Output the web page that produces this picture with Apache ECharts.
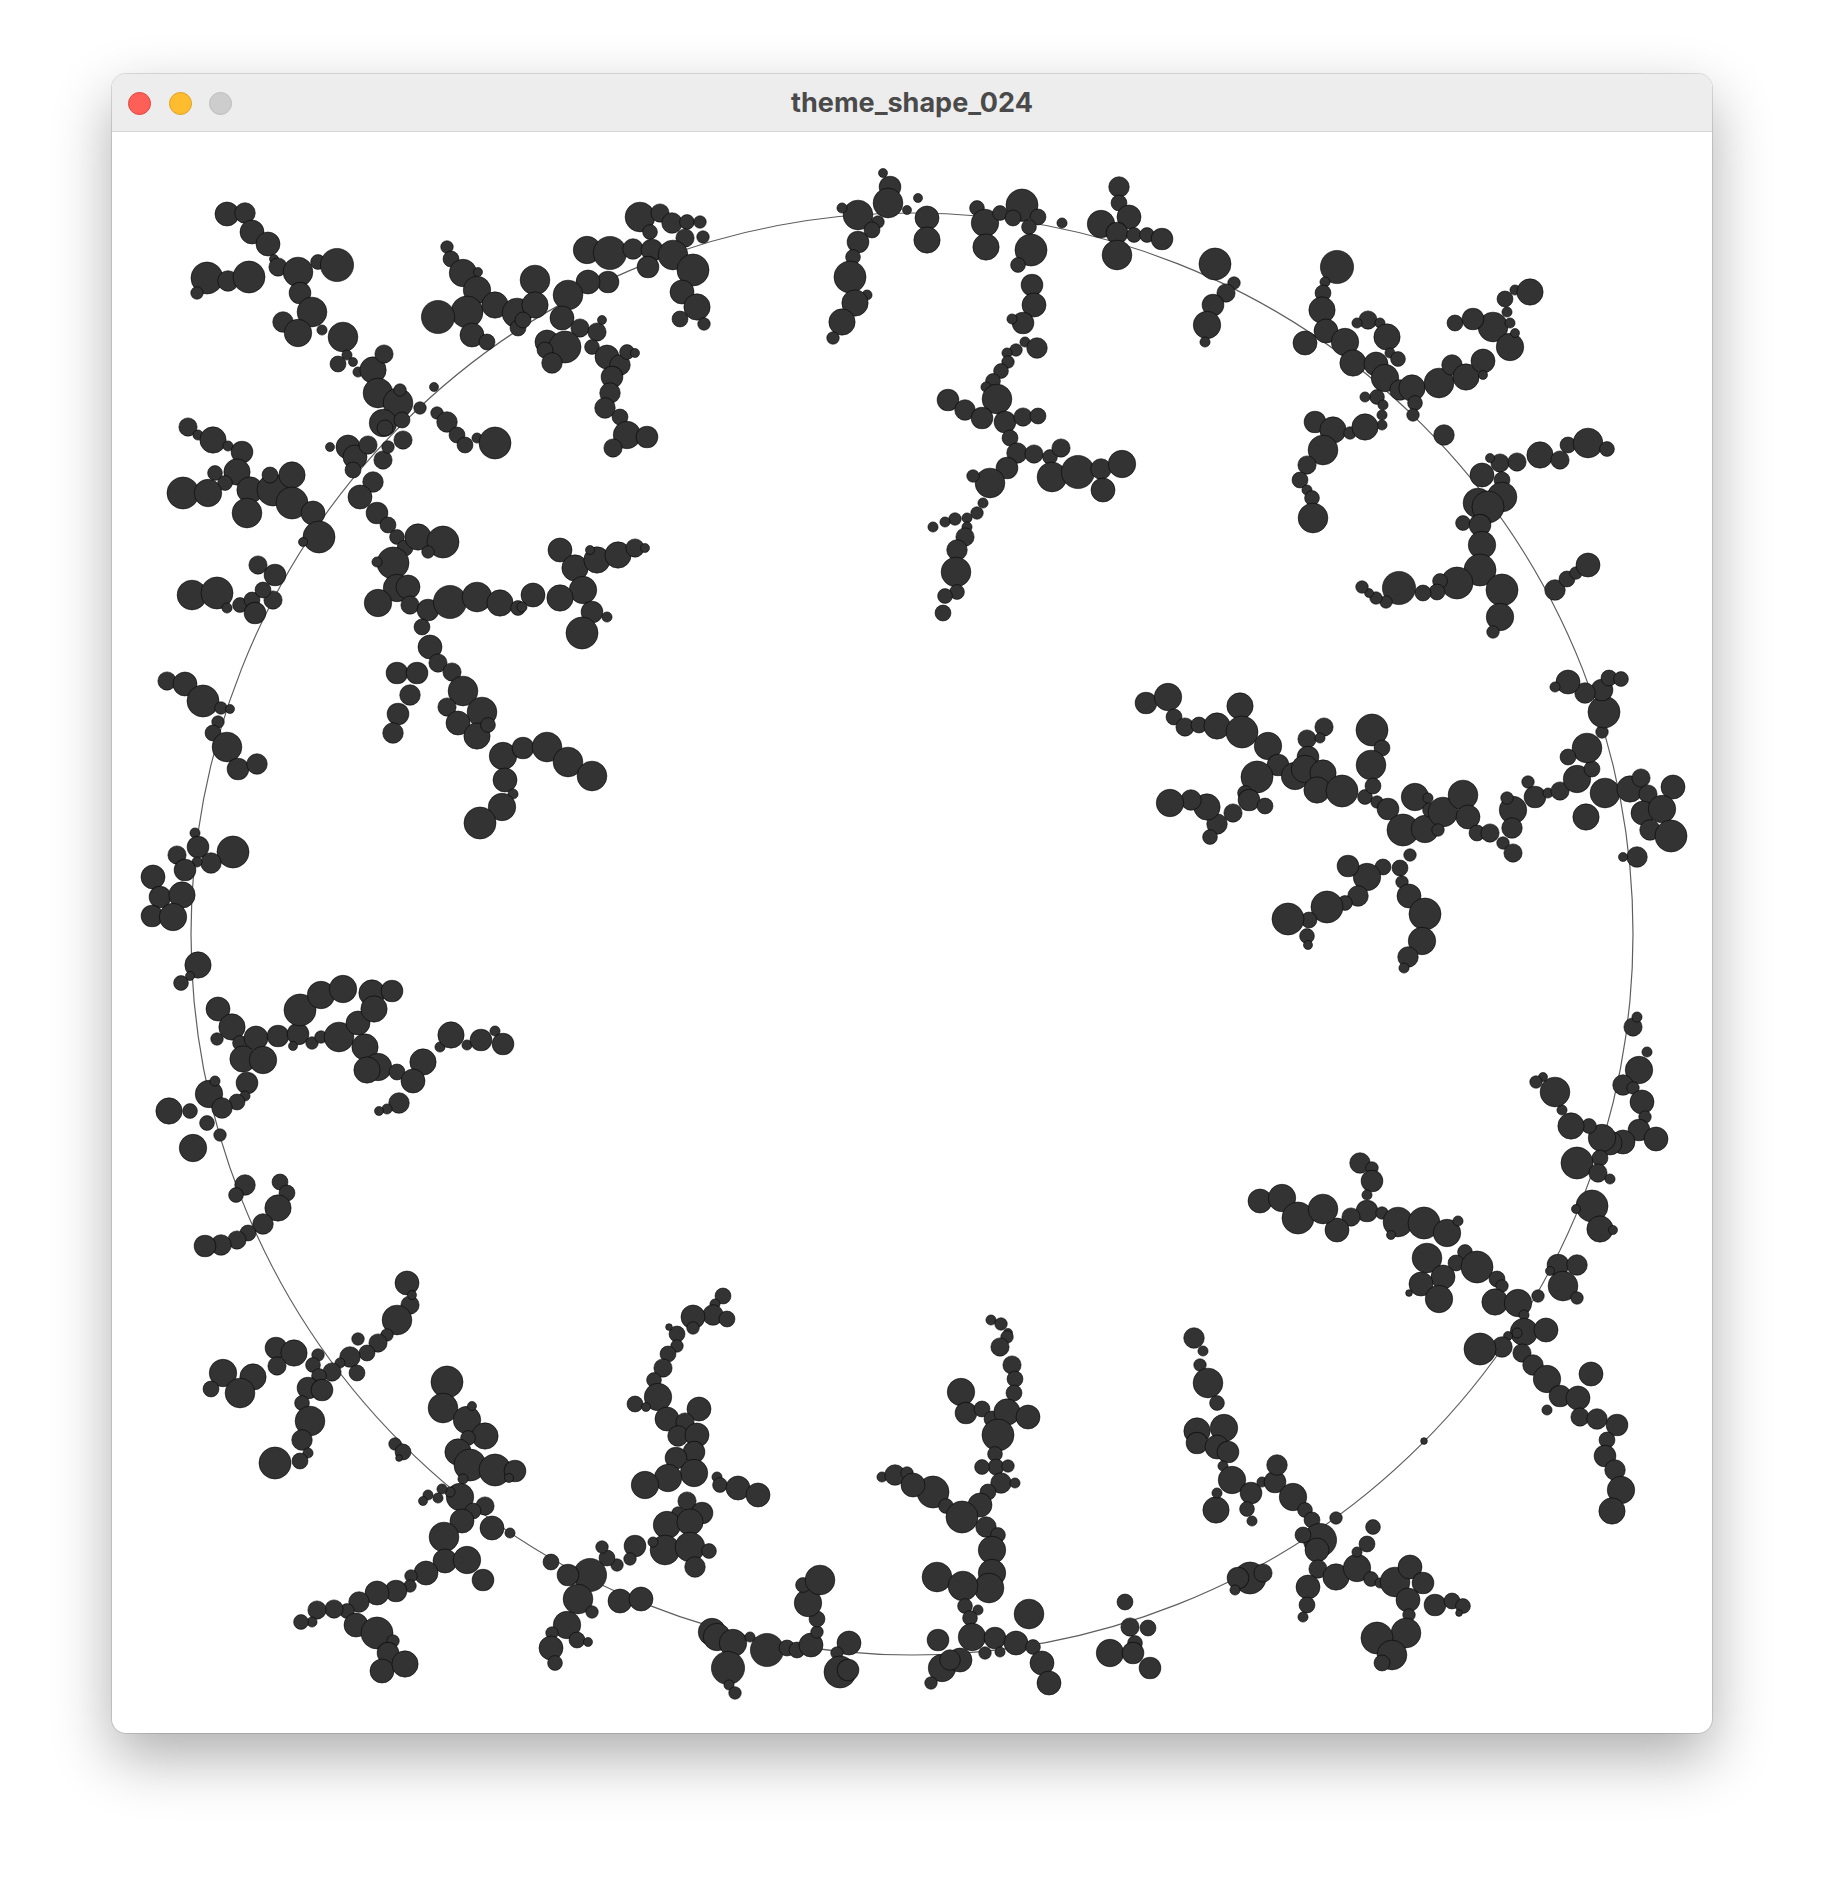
<!DOCTYPE html>
<html>
<head>
<meta charset="utf-8">
<title>theme_shape_024</title>
<script src="https://cdn.jsdelivr.net/npm/echarts@6/dist/echarts.min.js"></script>
<style>
  html, body { margin: 0; padding: 0; background: #ffffff; }
  body { width: 1824px; height: 1880px; position: relative; overflow: hidden; }
  .window {
    position: absolute; left: 112px; top: 74px; width: 1600px; height: 1659px;
    border-radius: 14px; background: #ffffff; overflow: hidden;
    box-shadow: 0 24px 60px rgba(0,0,0,0.32), 0 0 0 1px rgba(0,0,0,0.12);
  }
  .titlebar {
    position: absolute; left: 0; top: 0; width: 1600px; height: 57px;
    background: #ededed; border-bottom: 1px solid #d6d6d6;
  }
  .light { position: absolute; top: 18px; width: 23px; height: 23px; border-radius: 50%; }
  .red { left: 16px; background: #fe5f57; border: 1px solid #e0443e; box-sizing: border-box; }
  .yellow { left: 57px; background: #febc2e; border: 1px solid #dea123; box-sizing: border-box; }
  .grey { left: 97px; background: #cdcdcd; border: 1px solid #bdbdbd; box-sizing: border-box; }
  .title {
    position: absolute; left: 0; width: 1600px; top: 0; line-height: 57px; text-align: center;
    font-family: Inter, "Noto Sans", sans-serif; font-weight: 700; font-size: 27px; color: #4a4a4a;
  }
  #chart { position: absolute; left: 0; top: 58px; width: 1600px; height: 1601px; }
</style>
</head>
<body>
<div class="window">
  <div class="titlebar">
    <div class="light red"></div>
    <div class="light yellow"></div>
    <div class="light grey"></div>
    <div class="title">theme_shape_024</div>
  </div>
  <div id="chart"></div>
</div>
<script>
// points are [x, y, diameter] (screen px of the screenshot)
var ringCenter = [912, 934];
var ringRadius = 721;

var branchNW = [
  [227,214,20],[245,213,17],[252,232,20],[268,244,20],[274,259,7],[278,267,15],[298,272,25],[318,262,12],[337,265,28],
  [207,278,27],[228,281,17],[249,277,27],[197,293,10],[300,293,18],[312,312,25],[283,322,17],[298,333,23],[322,330,8],
  [343,337,25],[347,355,8],[338,364,13],[353,362,7],[358,372,8],[373,370,22],[384,354,15],[378,393,25],[398,403,25],
  [400,390,10],[383,423,23],[385,428,13],[402,420,13],[403,440,15],[420,408,10],[434,387,7],[437,413,10],[447,422,17],
  [457,435,13],[465,445,13],[477,438,8],[495,443,27],
  [447,247,10],[451,259,13],[463,273,23],[478,272,7],[477,290,23],[467,312,27],[438,317,28],[472,335,20],[487,342,13],
  [495,305,22],[517,313,25],[518,328,13]
];

var branchWNW = [
  [188,427,15],[198,435,8],[213,440,22],[228,446,8],[242,452,18],[215,473,12],[237,472,22],[225,483,12],[183,493,27],
  [208,493,23],[250,490,22],[273,490,27],[270,475,13],[292,475,22],[292,503,27],[247,513,25],[313,513,20],[319,537,27],
  [303,542,7],
  [348,447,20],[355,457,20],[330,447,7],[368,445,15],[353,470,13],[383,460,15],[388,447,10],[373,482,17],[360,497,20],
  [377,513,18],[388,525,13],[397,537,12],[405,548,13],[418,537,22],[443,542,27],[428,552,10],[393,563,27],[377,562,8],
  [397,588,23],[408,587,20],[378,603,23],[410,605,15],[428,610,18],[450,602,28],[477,597,25],[500,603,22],[518,608,12],
  [422,627,13],[430,647,20],[438,663,15],[452,672,15],[397,673,18],[417,673,18],
  [192,595,25],[217,593,27],[227,608,8],[240,605,12],[252,600,13],[255,613,18],[273,600,15],[258,565,15],[275,575,18],
  [263,590,13]
];

var branchNNW = [
  [640,217,25],[660,213,15],[672,223,17],[687,222,12],[700,222,10],[650,232,12],[685,238,15],[703,237,10],[587,250,23],
  [610,253,28],[633,249,17],[652,250,18],[673,255,25],[648,267,18],[693,270,27],[682,292,20],[697,307,22],[680,319,13],
  [704,324,10],[535,280,25],[608,282,18],[588,282,20],[568,295,25],[535,305,22],[523,320,13],[562,318,20],[580,328,15],
  [597,332,15],[602,320,7],[547,342,20],[565,347,27],[545,350,13],[552,363,17],[592,347,12],[607,357,20],[620,365,17],
  [627,352,12],[635,353,7],[612,377,18],[610,393,17],[605,408,17],[620,417,13],[627,435,23],[647,437,18],[613,448,15],
  [883,173,7],[890,187,18],[888,203,25],[907,210,7],[858,215,25],[842,208,8],[878,222,10],[872,230,13],[858,242,18],
  [853,257,12],[850,277,27],[867,295,8],[855,303,22],[842,322,22],[833,338,10],
  [560,550,20],[575,568,22],[597,560,22],[618,555,22],[635,548,15],[645,548,7],[590,550,7],[583,590,23],[560,598,22],
  [533,595,20],[522,607,8],[592,612,18],[607,617,8],[582,633,27]
];

var branchN = [
  [918,198,7],[927,218,20],[927,240,22],[977,208,12],[985,223,23],[1000,213,12],[1022,205,27],[1038,217,13],[1013,218,13],
  [1029,227,12],[986,247,22],[1031,250,27],[1018,265,12],[1032,285,18],[1034,305,20],[1023,323,18],[1012,319,8],
  [1025,342,8],[1037,348,17],[1016,350,10],[1007,353,8],[1008,362,10],[1001,371,12],[993,381,12],[986,387,8],[997,399,25],
  [948,400,18],[965,410,17],[982,418,18],[1005,422,18],[1023,417,15],[1038,416,13],[1010,438,13],[1017,453,17],
  [1034,454,15],[1050,457,12],[1061,448,15],[1052,477,25],[1078,472,28],[1101,469,17],[1122,464,23],[1103,490,20],
  [1007,468,18],[990,483,25],[973,476,10],[983,503,8],[977,513,10],[967,518,8],[955,519,10],[945,522,8],[933,527,8],
  [967,527,8],[965,537,15],[957,550,17],[956,572,25],[957,592,12],[945,596,12],[943,613,13],
  [1119,187,17],[1119,203,13],[1129,217,20],[1101,224,23],[1117,233,18],[1134,235,12],[1147,235,12],[1162,239,18],
  [1117,255,25],[1062,223,8],
  [1215,264,27],[1234,283,10],[1226,293,15],[1213,305,18],[1207,325,23],[1205,342,8]
];

var branchNE = [
  [1337,267,28],[1325,282,8],[1323,293,13],[1322,310,22],[1305,343,20],[1326,331,20],[1345,342,23],[1353,363,22],
  [1368,320,15],[1357,323,8],[1380,323,8],[1387,337,22],[1390,353,8],[1398,359,12],[1376,364,20],[1385,378,23],
  [1377,397,12],[1365,397,8],[1400,390,17],[1412,388,22],[1415,403,12],[1413,415,10],[1383,405,8],[1382,415,8],
  [1382,425,8],[1439,383,25],[1452,365,17],[1466,377,22],[1483,361,20],[1483,375,7],[1493,327,25],[1510,347,23],
  [1455,323,13],[1473,319,18],[1507,312,8],[1510,323,8],[1515,333,7],[1505,299,13],[1515,290,8],[1530,292,22],
  [1444,435,17],
  [1315,422,18],[1333,430,22],[1350,433,10],[1365,427,22],[1323,450,25],[1307,465,15],[1300,480,13],[1307,490,8],
  [1312,498,12],[1313,518,25],
  [1482,475,20],[1500,463,15],[1490,458,7],[1517,462,15],[1540,455,22],[1560,460,15],[1568,445,13],[1588,443,25],
  [1607,449,12],[1502,480,13],[1502,497,25],[1478,503,25],[1488,507,27],[1463,523,12],[1480,525,18],[1482,545,23],
  [1480,570,27],[1457,583,27],[1440,581,12],[1437,592,13],[1423,593,13],[1399,588,28],[1386,602,10],[1376,598,10],
  [1369,593,7],[1362,587,10],[1502,590,27],[1500,617,23],[1493,632,10],[1555,590,17],[1567,579,13],[1576,573,10],
  [1588,565,20]
];

var branchW = [
  [167,681,15],[185,684,20],[203,701,27],[221,708,10],[230,709,7],[218,722,10],[213,733,13],[227,747,25],[238,769,18],
  [257,764,17],
  [410,695,17],[398,714,18],[393,733,17],[463,691,25],[447,707,15],[482,712,25],[458,723,20],[477,736,22],[488,725,12],
  [503,756,23],[523,748,18],[505,780,20],[513,794,8],[502,807,23],[480,823,27],[547,747,25],[568,762,25],[592,776,25],
  [195,833,8],[198,847,18],[177,855,15],[233,852,27],[211,863,17],[197,862,8],[185,870,18],[153,877,20],[160,897,18],
  [182,895,22],[152,916,18],[173,917,23],[198,965,22],[181,983,12],[190,976,7]
];

var branchWSW = [
  [218,1009,20],[232,1027,22],[217,1039,10],[240,1043,12],[256,1038,20],[278,1036,18],[298,1034,18],[293,1046,7],
  [300,1010,27],[321,995,23],[343,989,23],[312,1043,10],[321,1037,10],[339,1037,25],[358,1023,20],[372,993,22],
  [392,991,18],[374,1009,22],[365,1047,22],[378,1067,23],[367,1070,22],[397,1072,13],[423,1062,22],[440,1047,8],
  [451,1035,22],[467,1045,8],[481,1040,18],[495,1031,8],[503,1044,18],[413,1081,20],[399,1103,17],[387,1109,8],
  [379,1111,7],[243,1059,22],[263,1060,23],[247,1083,18],[245,1096,8],[237,1102,13],
  [209,1094,23],[215,1081,8],[169,1111,22],[190,1111,12],[222,1108,17],[207,1123,12],[220,1135,10],[193,1148,23]
];

var branchE = [
  [1146,703,18],[1168,697,23],[1174,717,13],[1185,727,15],[1199,725,13],[1217,726,22],[1240,706,22],[1242,732,27],
  [1268,746,23],[1278,765,18],[1257,777,27],[1245,793,12],[1249,800,18],[1265,806,13],[1233,813,15],[1217,824,17],
  [1210,837,12],[1207,807,22],[1191,800,17],[1170,803,23],[1307,739,15],[1324,727,15],[1320,738,8],[1308,757,18],
  [1295,776,23],[1305,769,23],[1323,773,22],[1317,790,22],[1342,791,27],[1365,797,12],[1372,730,27],[1382,748,13],
  [1371,765,25],[1373,786,13],[1377,802,10],[1388,809,18],[1415,797,23],[1428,798,8],[1403,830,27],[1425,829,23],
  [1430,810,12],[1443,812,25],[1463,795,25],[1468,817,20],[1438,830,10],[1477,833,13],[1490,833,15],[1410,855,10],
  [1400,868,13],[1402,882,10],[1409,896,20],[1425,914,27],[1422,941,23],[1408,957,17],[1404,968,8],[1383,867,13],
  [1367,877,23],[1348,866,18],[1358,896,17],[1345,903,12],[1327,907,27],[1309,920,13],[1288,919,27],[1307,936,12],
  [1308,945,7],
  [1513,810,23],[1507,798,10],[1512,828,17],[1503,843,10],[1513,853,15],[1528,782,10],[1535,797,18],[1548,793,8],
  [1560,791,15],[1577,779,23],[1592,769,13],[1587,748,25],[1568,757,13],[1602,732,10],[1604,712,27],[1602,690,18],
  [1585,693,17],[1568,682,20],[1555,687,8],[1609,678,13],[1621,679,12],[1605,793,25],[1586,817,22],[1630,789,22],
  [1641,778,15],[1648,794,15],[1673,787,20],[1643,813,20],[1662,809,23],[1650,830,17],[1671,836,27],[1637,857,17],
  [1623,857,7]
];

var branchESE = [
  [1633,1027,15],[1637,1017,8],[1647,1052,8],[1639,1070,23],[1623,1085,17],[1633,1088,10],[1642,1102,20],[1645,1117,10],
  [1639,1130,18],[1656,1139,20],[1623,1142,20],[1610,1143,20],[1602,1138,23],[1589,1126,12],[1571,1126,22],
  [1562,1110,8],[1555,1092,25],[1543,1077,7],[1536,1082,10],[1600,1158,13],[1577,1163,27],[1598,1173,15],[1610,1179,8],
  [1360,1163,17],[1372,1168,10],[1372,1181,18]
];

var branchSW = [
  [245,1185,17],[236,1195,12],[280,1182,13],[287,1193,13],[278,1208,22],[263,1224,17],[248,1233,13],[237,1240,15],
  [221,1245,17],[205,1246,18],
  [407,1283,20],[410,1305,15],[412,1295,7],[397,1320,25],[387,1335,10],[378,1343,15],[367,1353,13],[358,1339,10],
  [350,1357,17],[357,1373,13],[340,1363,8],[332,1372,15],[318,1355,10],[313,1365,12],[319,1376,12],[308,1388,18],
  [322,1390,18],[302,1403,12],[310,1421,25],[302,1440,17],[308,1453,8],[300,1461,13],[275,1463,27],[276,1348,18],
  [294,1353,22],[277,1366,15],[253,1377,22],[223,1373,23],[240,1393,25],[211,1389,13],
  [395,1444,10],[403,1452,13],[399,1458,5],
  [447,1382,27],[443,1408,25],[467,1420,23],[472,1406,7],[485,1436,22],[468,1438,12],[458,1452,22],[470,1465,27],
  [495,1470,27],[515,1471,18],[509,1478,7],[463,1479,8],[460,1497,23],[450,1492,8],[442,1489,8],[438,1498,8],
  [428,1495,8],[423,1501,7],[485,1506,15],[473,1511,13],[462,1521,20],[492,1528,20],[510,1533,8],[444,1537,25],
  [445,1561,20],[467,1560,23],[483,1580,18],[426,1573,20],[411,1576,10],[410,1586,10],[396,1591,18],[377,1593,20],
  [359,1602,17],[347,1611,12],[334,1609,15],[317,1610,15],[312,1622,8],[301,1622,12],[356,1625,20],[377,1633,27],
  [393,1641,10],[388,1653,18],[382,1671,20],[405,1664,22]
];

var branchS = [
  [723,1296,13],[715,1304,8],[713,1315,17],[727,1319,13],[693,1317,20],[693,1328,10],[677,1334,13],[669,1327,5],
  [677,1346,10],[668,1354,13],[663,1368,15],[654,1380,12],[658,1397,23],[635,1404,13],[646,1407,7],[699,1409,20],
  [667,1419,20],[685,1422,15],[678,1436,17],[697,1435,20],[694,1452,18],[676,1458,18],[694,1473,23],[668,1478,23],
  [645,1485,23],[717,1477,8],[720,1485,12],[738,1488,20],[758,1495,20],[687,1501,15],[702,1513,18],[678,1513,10],
  [667,1525,23],[690,1522,22],[665,1550,25],[690,1547,25],[709,1551,12],[695,1567,17],[653,1542,8],[635,1546,18],
  [630,1559,10],[617,1565,10],[607,1558,13],[602,1547,10],[551,1562,13],[590,1575,28],[568,1575,18],[578,1599,25],
  [592,1612,10],[567,1625,23],[552,1633,10],[577,1640,13],[588,1642,7],[551,1648,20],[555,1663,12],[620,1601,20],
  [641,1599,20],
  [712,1632,23],[717,1637,23],[733,1643,23],[750,1637,8],[728,1668,28],[729,1685,8],[735,1693,10],[767,1650,28],
  [787,1648,13],[797,1650,13],[811,1645,20],[817,1632,10],[817,1619,13],[808,1603,23],[803,1585,12],[820,1580,25],
  [849,1643,20],[837,1653,10],[840,1672,27],[848,1670,18],
  [882,1477,8],[895,1475,17],[907,1473,10]
];

var branchSSE = [
  [1260,1201,20],[1282,1198,23],[1298,1218,27],
  [991,1320,8],[1001,1324,10],[1008,1333,7],[1007,1337,10],[1000,1347,15],[1012,1365,15],[1015,1379,13],[1014,1393,13],
  [961,1392,23],[966,1413,18],[982,1409,13],[992,1419,13],[1007,1412,22],[1028,1417,20],[998,1435,27],[995,1454,12],
  [996,1467,13],[982,1467,12],[1008,1466,10],[1001,1483,17],[1015,1483,8],[988,1492,13],[980,1505,20],[933,1492,27],
  [913,1485,20],[946,1506,12],[962,1517,27],[986,1527,17],[998,1535,12],[992,1550,23],[992,1573,23],[989,1588,25],
  [937,1577,25],[963,1586,25],[965,1606,12],[978,1610,8],[970,1618,12],[1029,1614,25],[972,1637,23],[995,1638,18],
  [1016,1643,20],[938,1640,18],[1033,1647,12],[985,1653,10],[1000,1652,8],[942,1668,23],[960,1660,20],[950,1660,17],
  [931,1683,10],[1042,1663,20],[1049,1683,20],
  [1125,1602,13],[1130,1627,15],[1148,1628,13],[1135,1643,12],[1110,1653,23],[1133,1653,18],[1150,1668,18],
  [1194,1338,17],[1203,1351,8],[1200,1365,10],[1208,1383,25],[1217,1403,12],[1224,1428,23],[1197,1431,22],
  [1197,1443,18],[1217,1447,20],[1228,1452,18],[1223,1466,8],[1232,1480,23],[1216,1510,22],[1217,1493,8],
  [1251,1493,18],[1247,1509,12],[1252,1521,8],[1262,1482,8],[1275,1482,18],[1277,1465,17],[1293,1497,23],
  [1250,1578,27],[1238,1578,18],[1263,1573,15],[1235,1590,8]
];

var branchSE = [
  [1367,1195,8],[1367,1211,18],[1351,1217,15],[1337,1230,20],[1323,1209,25],[1382,1213,10],[1398,1222,25],[1424,1223,27],
  [1447,1233,23],[1458,1221,8],[1391,1235,7],[1465,1252,12],[1456,1263,13],[1427,1258,25],[1443,1277,20],[1421,1284,20],
  [1439,1299,23],[1409,1293,5],[1477,1267,27],[1497,1279,13],[1502,1286,10],[1495,1302,22],[1518,1303,23],[1524,1315,8],
  [1524,1332,23],[1517,1333,8],[1508,1336,7],[1546,1330,20],[1502,1347,17],[1480,1349,27],[1522,1353,15],[1533,1365,17],
  [1547,1379,23],[1560,1396,18],[1547,1410,8],[1578,1398,20],[1591,1374,20],[1580,1417,15],[1597,1419,17],[1617,1425,18],
  [1607,1440,13],[1605,1456,18],[1615,1470,17],[1621,1490,23],[1612,1511,22],
  [1592,1206,27],[1600,1229,22],[1613,1230,7],[1576,1209,7],[1558,1265,18],[1577,1265,17],[1563,1286,25],[1577,1298,10],
  [1550,1271,7],[1538,1296,10],
  [1424,1441,5],
  [1336,1518,10],[1305,1510,12],[1312,1520,13],[1320,1540,28],[1303,1535,13],[1317,1550,20],[1318,1569,15],[1336,1577,22],
  [1357,1568,23],[1357,1552,8],[1367,1544,13],[1373,1527,12],[1371,1579,12],[1380,1583,8],[1395,1582,25],[1410,1567,20],
  [1423,1583,18],[1408,1600,20],[1409,1615,10],[1435,1605,18],[1452,1601,13],[1463,1606,12],[1459,1613,5],[1406,1633,25],
  [1377,1638,27],[1392,1655,25],[1382,1663,13],[1308,1587,20],[1307,1605,13],[1303,1617,8]
];

var allPoints = [].concat(branchNW, branchWNW, branchNNW, branchN, branchNE, branchW, branchWSW,
  branchE, branchESE, branchSW, branchS, branchSSE, branchSE);

var chart = echarts.init(document.getElementById('chart'));
var option = {
  animation: false,
  grid: { left: 0, right: 0, top: 0, bottom: 0 },
  xAxis: { type: 'value', min: 112, max: 1712, show: false },
  yAxis: { type: 'value', min: 132, max: 1733, inverse: true, show: false },
  series: [
    {
      type: 'custom',
      silent: true,
      clip: false,
      z: 1,
      data: [[ringCenter[0], ringCenter[1], ringRadius]],
      renderItem: function (params, api) {
        var c = api.coord([api.value(0), api.value(1)]);
        var e = api.coord([api.value(0) + api.value(2), api.value(1)]);
        return {
          type: 'circle',
          shape: { cx: c[0], cy: c[1], r: e[0] - c[0] },
          style: { fill: 'none', stroke: '#5e5e5e', lineWidth: 1.2 }
        };
      }
    },
    {
      type: 'scatter',
      z: 2,
      data: allPoints,
      // read diameters were a little tight on the anti-aliased edges
      symbolSize: function (v) { return v[2] * 1.15 + 1; },
      itemStyle: {
        color: '#333333',
        borderColor: 'rgba(0,0,0,0.55)',
        borderWidth: 1,
        opacity: 1
      }
    }
  ]
};
chart.setOption(option);
</script>
</body>
</html>
